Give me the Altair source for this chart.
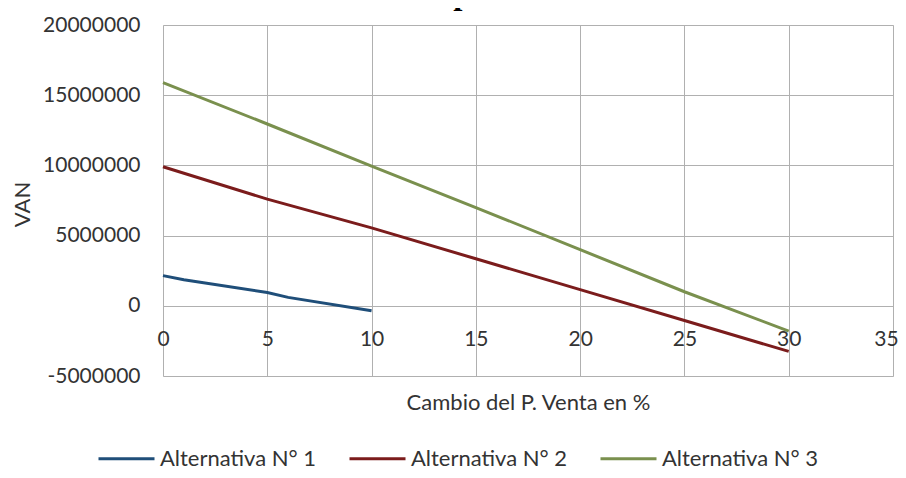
import altair as alt
import pandas as pd

# ---- data ----
alt1_x = [0, 1, 5, 6, 10]
alt1_y = [2150000, 1850000, 950000, 600000, -350000]

alt2_x = [0, 5, 10, 15, 20, 25, 30]
alt2_y = [9900000, 7600000, 5550000, 3350000, 1150000, -1050000, -3250000]

alt3_x = [0, 5, 10, 15, 20, 25, 30]
alt3_y = [15900000, 12950000, 9950000, 7000000, 4000000, 1000000, -1800000]

series_names = ["Alternativa N° 1", "Alternativa N° 2", "Alternativa N° 3"]
series_colors = ["#1f4e79", "#7b1c1c", "#7a904e"]

x_ticks = [0, 5, 10, 15, 20, 25, 30, 35]
y_ticks = [-5000000, 0, 5000000, 10000000, 15000000, 20000000]

title_text = "Gráfico N° 37: Variación del VAN por Cambios en el Precio de Venta"
x_title = "Cambio del P. Venta en %"
y_title = "VAN"

rows = []
for name, xs, ys in zip(series_names, [alt1_x, alt2_x, alt3_x], [alt1_y, alt2_y, alt3_y]):
    for i, (xv, yv) in enumerate(zip(xs, ys)):
        rows.append({"serie": name, "x": xv, "y": yv, "order": i})
df = pd.DataFrame(rows)

FONT = "Lato"
W, H = 730, 351

x_scale = alt.Scale(domain=[0, 35], nice=False, zero=False)
y_scale = alt.Scale(domain=[-5000000, 20000000], nice=False)

lines = alt.Chart(df).mark_line(strokeWidth=3).encode(
    x=alt.X("x:Q", scale=x_scale,
            axis=alt.Axis(values=x_ticks, title=x_title, grid=True, domain=False, ticks=False,
                          offset=-70, labelPadding=22, labelFontSize=21, labelFont=FONT,
                          labelColor="#333333", titleFont=FONT, titleFontSize=22,
                          titleFontWeight="normal", titleColor="#333333",
                          titleY=96, titleBaseline="middle",
                          labelOffset=alt.expr("datum.value == 35 ? -7 : 0"),
                          gridColor="#b0b0b0", gridWidth=1, labelFlush=False)),
    y=alt.Y("y:Q", scale=y_scale,
            axis=alt.Axis(values=y_ticks, title=y_title, grid=True, domain=False,
                          labelExpr="datum.value < 0 ? '-' + format(-datum.value, 'd') : format(datum.value, 'd')",
                          ticks=False, labelPadding=23, labelFontSize=21, labelFont=FONT,
                          labelColor="#333333", titleFont=FONT, titleFontSize=22,
                          titleFontWeight="normal", titleColor="#333333",
                          titleAngle=270, titleX=-141, titleY=179, titleAlign="center",
                          titleBaseline="middle", gridColor="#b0b0b0", gridWidth=1)),
    color=alt.Color("serie:N", scale=alt.Scale(domain=series_names, range=series_colors),
                    legend=alt.Legend(title=None, orient="none", legendX=-66, legendY=404,
                                      direction="horizontal", columns=3, symbolType="stroke",
                                      symbolSize=3136, symbolStrokeWidth=3, labelFont=FONT,
                                      labelFontSize=22, labelColor="#333333", labelOffset=4,
                                      columnPadding=26, labelLimit=400, padding=0)),
    order="order:Q",
)

title_df = pd.DataFrame({"t": [title_text]})
title = alt.Chart(title_df).mark_text(
    font="Liberation Serif", fontWeight="bold", fontSize=33, align="left",
    baseline="alphabetic", color="#000000"
).encode(text="t:N", x=alt.value(-193), y=alt.value(-21))

chart = alt.layer(lines, title).properties(
    width=W, height=H,
    autosize=alt.AutoSizeParams(type="none"),
    padding={"left": 155, "top": 17, "right": 5, "bottom": 94},
).configure_view(stroke=None).configure(background="white")

chart.save("out.html", embed_options={"renderer": "svg", "actions": False})
